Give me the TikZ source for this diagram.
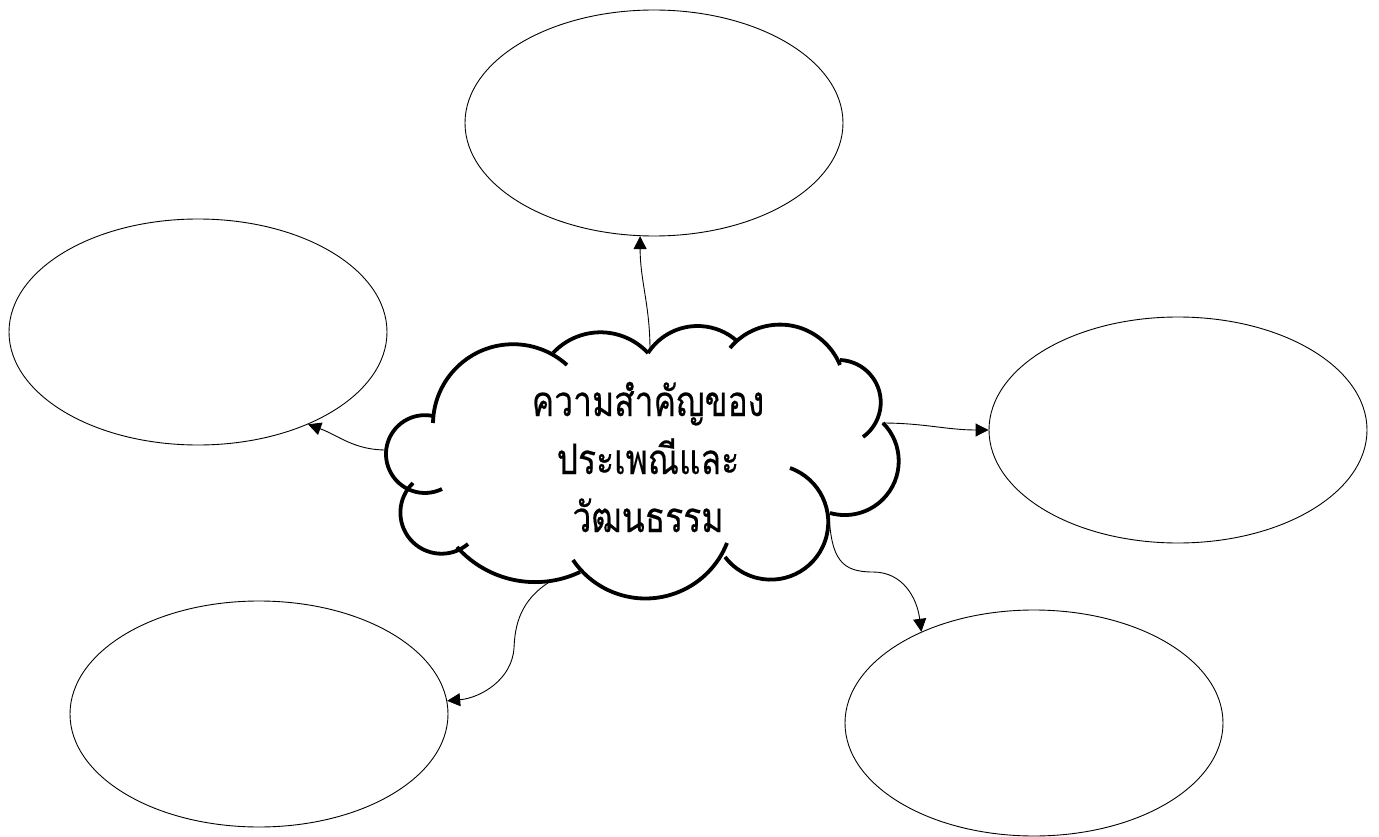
\documentclass[tikz,border=0pt]{standalone}
\usepackage{fontspec}
\newfontfamily\thaifont[Script=Thai,FakeStretch=0.8,FakeBold=0.4]{Loma}
\usetikzlibrary{shapes.geometric,arrows.meta}
% arc through three points (pixel coordinates, y downwards), traced clockwise on screen
\newcommand{\cloudbump}[6]{%
  \pgfmathsetmacro{\cbBx}{(#3-#1)/100}%
  \pgfmathsetmacro{\cbBy}{(#4-#2)/100}%
  \pgfmathsetmacro{\cbCx}{(#5-#1)/100}%
  \pgfmathsetmacro{\cbCy}{(#6-#2)/100}%
  \pgfmathsetmacro{\cbD}{2*(\cbBx*\cbCy-\cbBy*\cbCx)}%
  \pgfmathsetmacro{\cbUx}{(\cbCy*(\cbBx*\cbBx+\cbBy*\cbBy)-\cbBy*(\cbCx*\cbCx+\cbCy*\cbCy))/\cbD}%
  \pgfmathsetmacro{\cbUy}{(\cbBx*(\cbCx*\cbCx+\cbCy*\cbCy)-\cbCx*(\cbBx*\cbBx+\cbBy*\cbBy))/\cbD}%
  \pgfmathsetmacro{\cbR}{100*veclen(\cbUx,\cbUy)}%
  \pgfmathsetmacro{\cbSA}{atan2(-\cbUy,-\cbUx)}%
  \pgfmathsetmacro{\cbEA}{atan2(\cbCy-\cbUy,\cbCx-\cbUx)}%
  \pgfmathsetmacro{\cbEA}{\cbEA<\cbSA ? \cbEA+360 : \cbEA}%
  \draw[cloudline] (#1,#2) arc[start angle=\cbSA, end angle=\cbEA, radius=\cbR];%
}
\begin{document}
\begin{tikzpicture}[x=1pt,y=-1pt,
  bubble/.style={draw=black,line width=0.9pt,ellipse,minimum width=378pt,minimum height=226pt,inner sep=0pt},
  cloudline/.style={line width=3.8pt,line cap=butt},
  conn/.style={line width=0.9pt,-{Triangle[length=13pt,width=13pt]}}]
\useasboundingbox[fill=white] (0,0) rectangle (1379,837);
% ellipses
\node[bubble] (top) at (654,123) {};
\node[bubble] (left) at (198,332) {};
\node[bubble] (right) at (1178,430) {};
\node[bubble] (bl) at (259,714) {};
\node[bubble] (br) at (1034,723) {};
% cloud
\cloudbump{433}{423}{473}{355}{567}{365}
\cloudbump{553}{353}{610}{333}{648}{353}
\cloudbump{648}{353}{698}{326}{737}{341}
\cloudbump{730}{348}{787}{325}{840}{365}
\cloudbump{840}{360}{877}{385}{863}{437}
\cloudbump{883}{423}{898}{470}{830}{513}
\cloudbump{790}{468}{828}{517}{725}{557}
\cloudbump{727}{543}{670}{595}{573}{560}
\cloudbump{580}{572}{520}{581}{457}{547}
\cloudbump{468}{544}{407}{535}{413}{483}
\cloudbump{442}{489}{386}{455}{433}{416}
\node[font=\thaifont\fontsize{42}{58}\selectfont,align=center] (title) at (648,457) {ความสำคัญของ\\ประเพณีและ\\วัฒนธรรม};
% connector start points on the cloud
\coordinate (cTop) at (650,350);
\coordinate (cLeft) at (386,450);
\coordinate (cRight) at (882,423);
\coordinate (cBR) at (829,513);
\coordinate (cBL) at (551,581);
% connectors
\draw[conn] (cTop) to[out=90,in=-90] (top.263);
\draw[conn] (cLeft) to[out=180,in=-20] (left.-40);
\draw[conn] (cRight) to[out=0,in=180] (right.180);
\draw[conn] (cBR) .. controls (831,560) and (842,572) .. (873,572) .. controls (903,572) and (917,598) .. (br.141);
\draw[conn] (cBL) .. controls (520,600) and (515,625) .. (514,648) .. controls (512,680) and (480,698) .. (bl.4);
\end{tikzpicture}
\end{document}
